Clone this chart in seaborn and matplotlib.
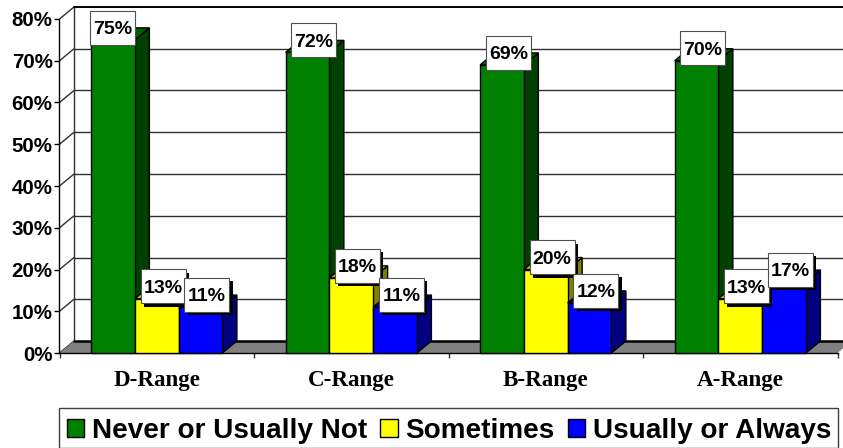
import matplotlib
matplotlib.use("Agg")
import matplotlib.pyplot as plt
from matplotlib.patches import Polygon, Rectangle
from matplotlib.colors import to_rgb
import pandas as pd
import seaborn as sns

# Survey shares per grade range
ranges = ["D-Range", "C-Range", "B-Range", "A-Range"]
never = [75, 72, 69, 70]
sometimes = [13, 18, 20, 13]
usually = [11, 11, 12, 17]
series_names = ["Never or Usually Not", "Sometimes", "Usually or Always"]
series_colors = ["#008000", "#FFFF00", "#0000FF"]
y_ticks = [0, 10, 20, 30, 40, 50, 60, 70, 80]

W, H = 843, 448
PLOT_L, PLOT_R, PLOT_T, PLOT_B = 59.5, 837.5, 19, 353

df = pd.DataFrame({
    "range": ranges * 3,
    "share": never + sometimes + usually,
    "series": [n for n in series_names for _ in ranges],
})

sns.set_style("white")
plt.rcParams["font.family"] = ["Liberation Sans", "DejaVu Sans"]
plt.rcParams["font.weight"] = "bold"
plt.rcParams["text.color"] = "black"

fig = plt.figure(figsize=(W / 100, H / 100), dpi=100)
ax = fig.add_axes([PLOT_L / W, 1 - PLOT_B / H, (PLOT_R - PLOT_L) / W, (PLOT_B - PLOT_T) / H])

sns.barplot(data=df, x="range", y="share", hue="series", hue_order=series_names,
            palette=series_colors, saturation=1, width=0.675, gap=0,
            edgecolor="black", linewidth=1, ax=ax)

ax.set_xlim(-0.5, len(ranges) - 0.5)
ax.set_ylim(0, 80)

# Pixel sizes expressed in data units
x_px = (len(ranges)) / (PLOT_R - PLOT_L)
y_px = 80 / (PLOT_B - PLOT_T)
dx, dy = 14.5 * x_px, 12 * y_px
x0, x1 = ax.get_xlim()

# Back wall, left wall and floor of the box
line = dict(color="#303030", lw=1, clip_on=False, zorder=1, solid_capstyle="butt")
for v in y_ticks[1:-1]:
    ax.plot([x0 + dx, x1 + dx], [v + dy, v + dy], **line)
for v in y_ticks:
    ax.plot([x0, x0 + dx], [v, v + dy], **line)
ax.plot([x0 + dx, x0 + dx], [dy, 80 + dy], **line)
ax.plot([x0 + dx, x1 + dx], [80 + dy, 80 + dy], color="black", lw=1.4,
        clip_on=False, zorder=1)
ax.add_patch(Polygon([(x0, 0), (x1, 0), (x1 + dx, dy), (x0 + dx, dy)], closed=True,
                     facecolor="#808080", edgecolor="none", clip_on=False, zorder=1.5))
ax.plot([x0 + dx, x1 + dx], [dy, dy], color="black", lw=1.8, clip_on=False, zorder=1.6)


def shade(color, k):
    return tuple(c * k for c in to_rgb(color))


# Extrude every bar: side and top faces, stacked left to right
bars = []
for container, color in zip(ax.containers, series_colors):
    bars += [(b, color) for b in container]
bars.sort(key=lambda item: item[0].get_x())
edge = dict(edgecolor="black", linewidth=1, clip_on=False)
for i, (bar, color) in enumerate(bars):
    left, right, top = bar.get_x(), bar.get_x() + bar.get_width(), bar.get_height()
    z = 3 + i
    ax.add_patch(Polygon([(right, 0), (right + dx, dy), (right + dx, top + dy), (right, top)],
                         closed=True, facecolor=shade(color, 0.5), zorder=z, **edge))
    ax.add_patch(Polygon([(left, top), (left + dx, top + dy), (right + dx, top + dy), (right, top)],
                         closed=True, facecolor=shade(color, 0.75), zorder=z, **edge))
    bar.set_zorder(z + 0.5)
    bar.set_clip_on(False)

# Value labels: white boxes, raised above the bar front
box_w, box_h = 45 * x_px, 34 * y_px
shadow_x, shadow_y = 3.3 * x_px, 3.3 * y_px
for s, (container, values) in enumerate(zip(ax.containers, (never, sometimes, usually))):
    for c, (bar, v) in enumerate(zip(container, values)):
        cx = bar.get_x() + bar.get_width() / 2 + 6.4 * x_px
        if s == 0 and c == 0:
            cx -= 6.4 * x_px  # nudged left, flush with the tallest bar
        cy = v + 12.3 * y_px
        z = 20 + s
        if s > 0:
            ax.add_patch(Rectangle((cx - box_w / 2 + shadow_x, cy - box_h / 2 - shadow_y),
                                   box_w, box_h, facecolor="black", edgecolor="none",
                                   clip_on=False, zorder=z))
        ax.add_patch(Rectangle((cx - box_w / 2, cy - box_h / 2), box_w, box_h,
                               facecolor="white", edgecolor="#505050", linewidth=0.8,
                               clip_on=False, zorder=z + 0.1))
        ax.text(cx, cy, f"{v}%", ha="center", va="center_baseline", fontsize=14,
                fontweight="bold", color="black", zorder=z + 0.2)

# Axes
sns.despine(ax=ax, top=True, right=True)
for side in ("left", "bottom"):
    ax.spines[side].set_color("black")
    ax.spines[side].set_linewidth(1)
    ax.spines[side].set_zorder(2)
ax.set_xlabel("")
ax.set_ylabel("")
ax.set_yticks(y_ticks)
ax.set_yticklabels([f"{v}%" for v in y_ticks], fontsize=14.8, fontweight="bold", color="black")
ax.tick_params(axis="y", left=True, length=3.5, width=1, color="black", pad=1.5)
ax.set_xticks(range(len(ranges)))
ax.set_xticklabels(ranges, family="Liberation Serif", fontsize=16.6, fontweight="bold",
                   color="black")
ax.set_xticks([i - 0.5 for i in range(len(ranges) + 1)], minor=True)
ax.tick_params(axis="x", which="major", length=0, pad=12)
ax.tick_params(axis="x", which="minor", bottom=True, length=3.5, width=1, color="#303030")

# Legend entries sit in a ruled box that runs off the bottom edge of the figure
sns.move_legend(ax, "upper left", bbox_to_anchor=(58.7 / W, 1 - 409.7 / H),
                bbox_transform=fig.transFigure, ncol=3, title=None, frameon=False,
                borderaxespad=0, borderpad=0.3, handlelength=0.625, handleheight=0.625,
                handletextpad=0.27, columnspacing=0.47, labelcolor="black",
                prop={"family": "Liberation Sans", "weight": "bold", "size": 20.05})
ax.get_legend().set_zorder(40)
fig.add_artist(Rectangle((58.5 / W, 0), (838 - 58.5) / W, 1 - 407.7 / H,
                         transform=fig.transFigure, facecolor="none",
                         edgecolor="#404040", linewidth=1))
ax.set_facecolor("none")
fig.patch.set_facecolor("white")

fig.savefig("out.png", dpi=100)
